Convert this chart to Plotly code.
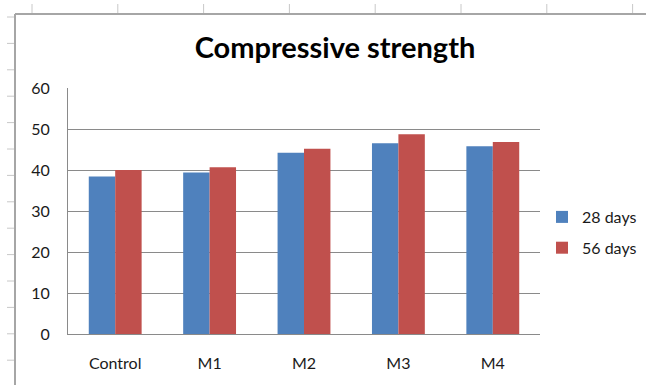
import plotly.graph_objects as go

categories = ["Control", "M1", "M2", "M3", "M4"]
days28 = [38.4, 39.4, 44.2, 46.5, 45.8]
days56 = [40.0, 40.7, 45.2, 48.7, 46.8]
series_names = ["28 days", "56 days"]
y_ticks = [0, 10, 20, 30, 40, 50, 60]

W, H = 646, 385
L, R, T, B = 68, 540, 88, 334  # plot area in pixels

FONT = "Lato"
GRID = "#8a8a8a"

fig = go.Figure()
fig.add_trace(go.Bar(x=categories, y=days28, name=series_names[0],
                     marker=dict(color="#4F81BD", line=dict(width=0)),
                     legendgroup="a"))
fig.add_trace(go.Bar(x=categories, y=days56, name=series_names[1],
                     marker=dict(color="#C0504D", line=dict(width=0)),
                     legendgroup="b"))

def px2x(px):
    return (px - L) / (R - L)

def py2y(py):
    return (B - py) / (B - T)

shapes = []
frame_col = "#a6a6a6"
tick_col = "#c8c8c8"
# chart frame (left and top border)
shapes.append(dict(type="line", xref="paper", yref="paper",
                   x0=px2x(15), x1=px2x(15), y0=py2y(14), y1=py2y(H + 5),
                   line=dict(color=frame_col, width=2)))
shapes.append(dict(type="line", xref="paper", yref="paper",
                   x0=px2x(15), x1=px2x(W + 5), y0=py2y(14), y1=py2y(14),
                   line=dict(color=frame_col, width=2)))
# spreadsheet row ticks on the left
for i in range(14):
    yy = 17 + i * 26.4
    shapes.append(dict(type="line", xref="paper", yref="paper",
                       x0=px2x(7), x1=px2x(14), y0=py2y(yy), y1=py2y(yy),
                       line=dict(color=tick_col, width=1)))
# spreadsheet column ticks on the top
for i in range(8):
    xx = 32 + i * 85.8
    shapes.append(dict(type="line", xref="paper", yref="paper",
                       x0=px2x(xx), x1=px2x(xx), y0=py2y(4), y1=py2y(13),
                       line=dict(color=tick_col, width=1)))

fig.update_layout(
    width=W, height=H,
    margin=dict(l=L, r=W - R, t=T, b=H - B, pad=0, autoexpand=False),
    paper_bgcolor="white", plot_bgcolor="white",
    barmode="group", bargap=0.44, bargroupgap=0,
    title=dict(text="<b>Compressive strength</b>", x=335 / W, xanchor="center",
               y=1 - 48 / H, yanchor="middle",
               font=dict(family=FONT, size=29, color="#000000")),
    font=dict(family=FONT, size=16, color="#1a1a1a"),
    legend=dict(xref="container", yref="container",
                x=542 / W, xanchor="left", y=1 - 200 / H, yanchor="top",
                font=dict(family=FONT, size=16, color="#1a1a1a"),
                tracegroupgap=7, itemwidth=30, bgcolor="rgba(0,0,0,0)"),
    shapes=shapes,
    showlegend=True,
)
fig.update_xaxes(showgrid=False, showline=True, linecolor=GRID, linewidth=1,
                 ticks="", ticklabelstandoff=15, tickfont=dict(size=16),
                 zeroline=False, fixedrange=True, automargin=False)
fig.update_yaxes(range=[0, 60], tickvals=y_ticks, showgrid=True, gridcolor=GRID,
                 gridwidth=1, showline=True, linecolor=GRID, linewidth=1,
                 ticks="", ticklabelstandoff=14, tickfont=dict(size=16),
                 zeroline=False, fixedrange=True, automargin=False)

fig.write_html("out.html")
